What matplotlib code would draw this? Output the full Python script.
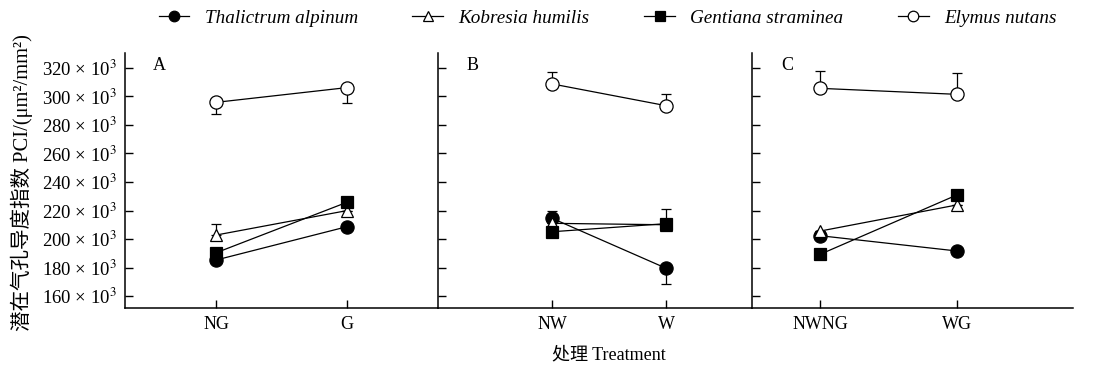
import matplotlib
matplotlib.use('Agg')
import matplotlib.pyplot as plt

plt.rcParams['font.family'] = ['Liberation Serif', 'Noto Sans CJK SC']
plt.rcParams['mathtext.fontset'] = 'stix'

species = ['Thalictrum alpinum', 'Kobresia humilis', 'Gentiana straminea', 'Elymus nutans']
panel_letters = ['A', 'B', 'C']
treatments = [['NG', 'G'], ['NW', 'W'], ['NWNG', 'WG']]
yticks = [160, 180, 200, 220, 240, 260, 280, 300, 320]

# PCI values (x10^3), one pair per panel
thalictrum = [[185.3, 208.6], [214.5, 179.4], [202.3, 191.6]]
kobresia = [[202.8, 219.9], [211.0, 210.0], [205.6, 223.9]]
gentiana = [[190.4, 225.7], [205.1, 210.8], [189.3, 230.9]]
elymus = [[295.9, 306.2], [308.8, 293.5], [305.7, 301.5]]

# one-sided error bars (lower, upper)
thalictrum_lo = [[0, 0], [0, 11], [0, 0]]
thalictrum_up = [[0, 0], [5.5, 0], [0, 0]]
kobresia_lo = [[0, 0], [0, 0], [0, 0]]
kobresia_up = [[8, 0], [0, 0], [0, 0]]
gentiana_lo = [[0, 0], [0, 0], [0, 0]]
gentiana_up = [[0, 0], [0, 10], [0, 0]]
elymus_lo = [[8, 11], [0, 0], [0, 0]]
elymus_up = [[0, 0], [8.5, 8], [12.5, 15]]

series = [thalictrum, kobresia, gentiana, elymus]
lows = [thalictrum_lo, kobresia_lo, gentiana_lo, elymus_lo]
ups = [thalictrum_up, kobresia_up, gentiana_up, elymus_up]
markers = ['o', '^', 's', 'o']
faces = ['black', 'white', 'black', 'white']
msizes = [9.5, 9, 8.5, 9.5]

fig = plt.figure(figsize=(10.95, 3.70), dpi=100)

# panel extents in figure pixels: left, right
edges = [(125, 438), (438, 752), (752, 1073)]
xlims = [(0.3, 2.7), (0.0, 2.75), (0.5, 2.85)]
bottom = 1 - 308 / 370
height = (308 - 53) / 370

axes = []
handles = []
for p in range(3):
    l, r = edges[p]
    ax = fig.add_axes([l / 1095, bottom, (r - l) / 1095, height])
    axes.append(ax)
    x = [1, 2]
    for s in range(4):
        ax.errorbar(x, series[s][p], yerr=[lows[s][p], ups[s][p]], fmt='none',
                    ecolor='black', elinewidth=0.9, capsize=3.5, capthick=0.9, zorder=2)
        ln, = ax.plot(x, series[s][p], color='black', lw=0.9, marker=markers[s],
                      markersize=msizes[s], markerfacecolor=faces[s],
                      markeredgecolor='black', markeredgewidth=0.9, zorder=3 + s,
                      label=species[s])
        if p == 0:
            handles.append(ln)
    ax.set_xlim(*xlims[p])
    ax.set_ylim(151.6, 330.5)
    ax.set_xticks(x)
    ax.set_xticklabels(treatments[p], fontsize=13)
    ax.set_yticks(yticks)
    if p == 0:
        ax.set_yticklabels([f'{v} × 10$^3$' for v in yticks], fontsize=13.5)
    else:
        ax.set_yticklabels([])
    ax.spines['top'].set_visible(False)
    ax.spines['right'].set_visible(False)
    ax.spines['left'].set_linewidth(1.1)
    ax.spines['bottom'].set_linewidth(1.1)
    ax.tick_params(direction='in', length=6, width=1, pad=6)
    ax.text(0.09, 0.95, panel_letters[p], transform=ax.transAxes,
            fontsize=13, va='center', ha='left')

axes[0].set_ylabel('潜在气孔导度指数 PCI/(μm²/mm²)', fontsize=14.8)
axes[0].yaxis.set_label_coords(-0.295, 0.49)
fig.text((125 + 1073) / 2 / 1095 + 0.009, 1 - 355 / 370, '处理 Treatment',
         ha='center', va='center', fontsize=13)

leg_handles = []
for h in handles:
    leg_handles.append(plt.Line2D([], [], color='black', lw=0.9, marker=h.get_marker(),
                                  markersize=h.get_markersize() * 0.8,
                                  markerfacecolor=h.get_markerfacecolor(),
                                  markeredgecolor='black', markeredgewidth=0.9))
fig.legend(leg_handles, species, loc='center left', bbox_to_anchor=(151 / 1095, 1 - 18 / 370),
           ncol=4, frameon=False, prop={'style': 'italic', 'size': 13.8},
           handlelength=1.6, handletextpad=0.8, columnspacing=2.85, borderaxespad=0)

fig.savefig('out.png', dpi=100)
